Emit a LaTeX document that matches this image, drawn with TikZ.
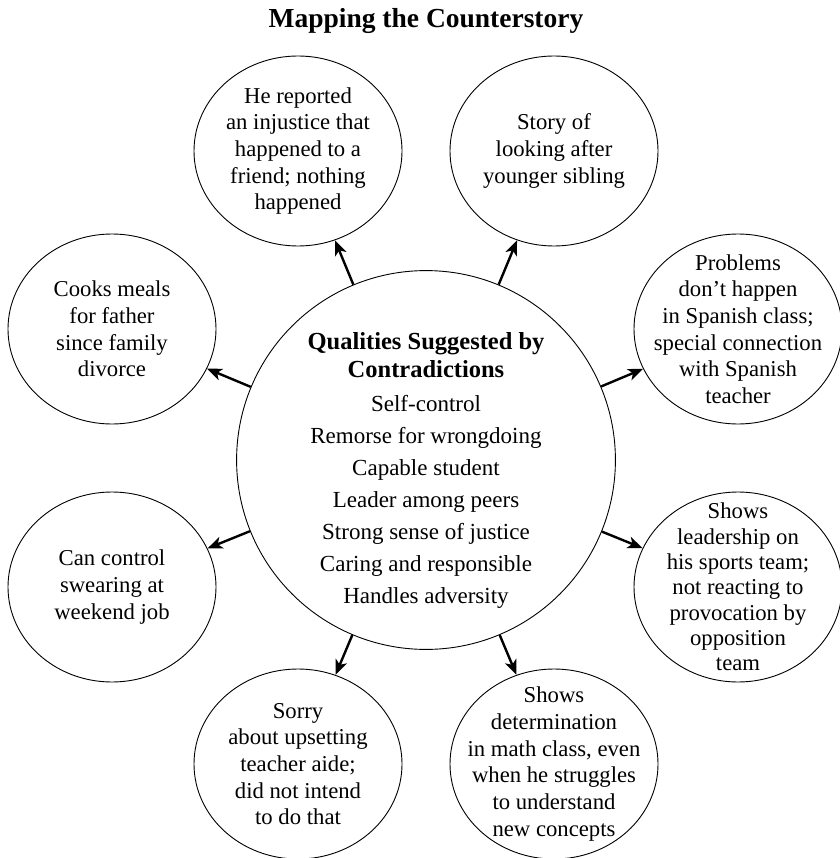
\documentclass[tikz,border=0pt]{standalone}
\usepackage{fontspec}
\setmainfont{Liberation Serif}
\usetikzlibrary{arrows.meta,shapes.geometric}
\begin{document}
\begin{tikzpicture}[x=1pt,y=-1pt,
bub/.style={draw,ellipse,line width=.9pt,minimum width=208pt,minimum height=190pt,inner sep=-28pt,align=center,font=\fontsize{22.7}{26.7}\selectfont},
arr/.style={line width=2.4pt,-{Stealth[length=15pt,width=12pt,inset=4pt]}}]
\useasboundingbox(0,0)rectangle(839,858);
\node[anchor=base,font=\bfseries\fontsize{27.5}{30}\selectfont](ttl)at(426,28){Mapping the Counterstory};
\node[draw,circle,line width=.9pt,minimum size=376pt,inner sep=0pt,align=center,font=\fontsize{23}{28}\selectfont](hub)at(426,460){\rule{0pt}{37pt}{\bfseries\fontsize{24.5}{28}\selectfont Qualities Suggested by}\\{\bfseries\fontsize{24.5}{28}\selectfont Contradictions}\\[6pt]Self-control\\[4pt]Remorse for wrongdoing\\[4pt]Capable student\\[4pt]Leader among peers\\[4pt]Strong sense of justice\\[4pt]Caring and responsible\\[4pt]Handles adversity};
\node[bub](rep)at(298,151){He reported\\an injustice that\\happened to a\\friend; nothing\\happened};
\node[bub](sib)at(554,151){Story of\\looking after\\younger sibling};
\node[bub](cook)at(112,329){Cooks meals\\for father\\since family\\divorce};
\node[bub](span)at(738,329){Problems\\don’t happen\\in Spanish class;\\special connection\\with Spanish\\teacher};
\node[bub](swear)at(112,587){Can control\\swearing at\\weekend job};
\node[bub,font=\fontsize{22.7}{25.3}\selectfont](sport)at(738,587){Shows\\leadership on\\his sports team;\\not reacting to\\provocation by\\opposition\\team};
\node[bub](sorry)at(298,764){Sorry\\about upsetting\\teacher aide;\\did not intend\\to do that};
\node[bub](math)at(554,764){Shows\\determination\\in math class, even\\when he struggles\\to understand\\new concepts};
\draw[arr](hub)--(rep);\draw[arr](hub)--(sib);\draw[arr](hub)--(cook);\draw[arr](hub)--(span);
\draw[arr](hub)--(swear);\draw[arr](hub)--(sport);\draw[arr](hub)--(sorry);\draw[arr](hub)--(math);
\end{tikzpicture}
\end{document}
